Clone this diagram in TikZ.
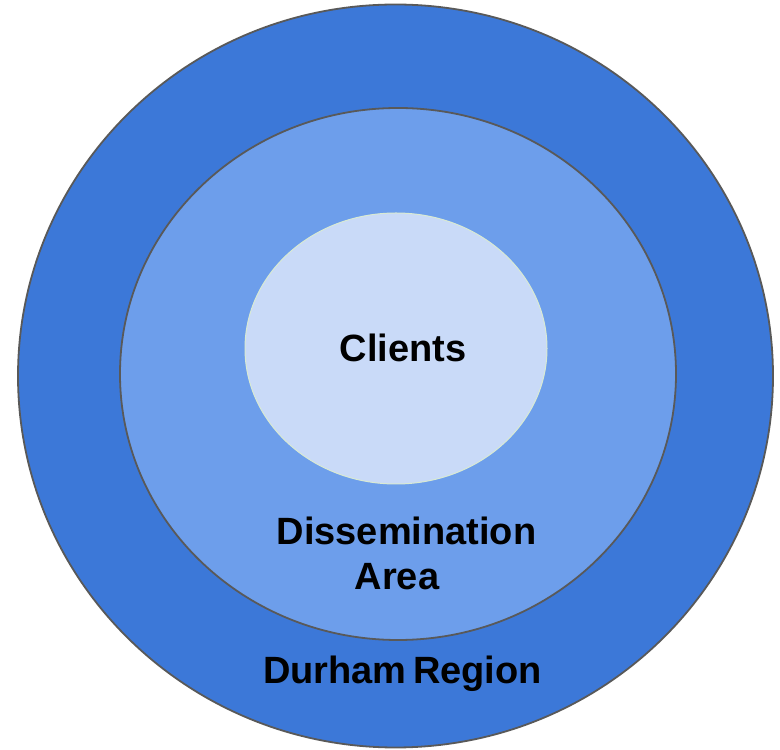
\documentclass[tikz,border=0pt]{standalone}
\usepackage{fontspec}
\setmainfont{Liberation Sans}
\usetikzlibrary{shapes.geometric}
\definecolor{outerblue}{RGB}{60,120,216}
\definecolor{midblue}{RGB}{109,158,235}
\definecolor{innerblue}{RGB}{201,218,248}
\definecolor{ringgray}{RGB}{89,89,89}
\definecolor{innerline}{RGB}{217,234,211}
\tikzset{
  ring/.style={ellipse, draw=ringgray, line width=1.8pt, inner sep=0pt},
  lbl/.style={font=\bfseries\fontsize{38}{45}\selectfont, text=black, anchor=base, inner sep=0pt},
}
\begin{document}
\begin{tikzpicture}[x=1pt,y=1pt]
\useasboundingbox (0,0) rectangle (780,750);
\node[ring, fill=outerblue, minimum width=755pt, minimum height=743pt] (outer) at (395.5,374) {};
\node[ring, fill=midblue, minimum width=556pt, minimum height=532pt] (middle) at (398,376) {};
\node[ellipse, draw=innerline, line width=1pt, fill=innerblue, inner sep=0pt, minimum width=302pt, minimum height=271pt] (inner) at (396,401.5) {};
\node[lbl] (clients) at (403,388) {Clients};
\node[lbl] (diss) at (406.5,205) {Dissemination};
\node[lbl] (area) at (397,160) {Area};
\node[lbl] (durham) at (402.5,66) {Durham\hspace{-4pt} Region};
\end{tikzpicture}
\end{document}
